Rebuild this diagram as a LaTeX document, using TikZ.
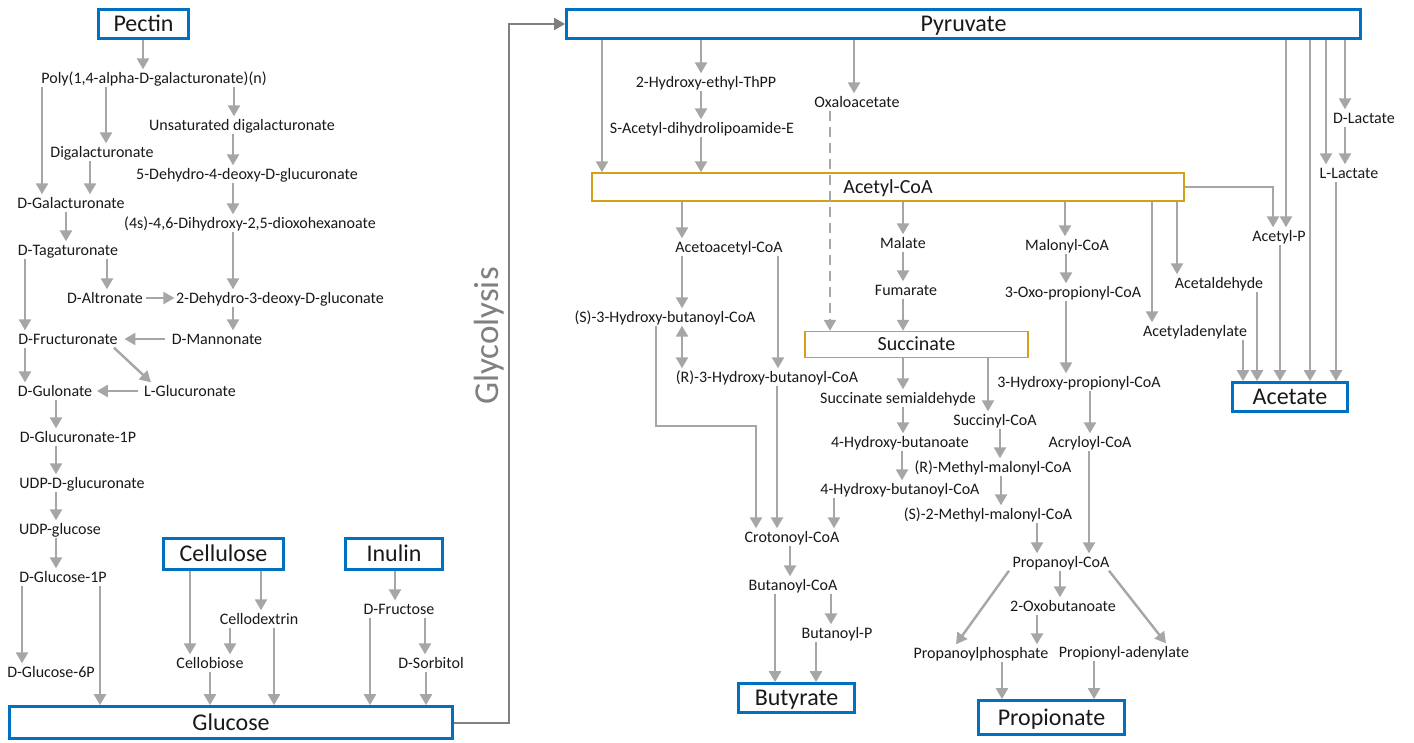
\documentclass[tikz,border=0pt]{standalone}
\usepackage{fontspec}
\setmainfont{Carlito}
\usetikzlibrary{arrows.meta}
\definecolor{boxblue}{RGB}{0,112,192}
\definecolor{boxgold}{RGB}{212,160,23}
\definecolor{arrgrey}{RGB}{166,166,166}
\definecolor{glygrey}{RGB}{128,128,128}
\newcommand\vlink[3]{\draw[arr] (#1.south -| #3,0) -- (#2.north -| #3,0);}
\begin{document}
\begin{tikzpicture}[x=1pt,y=-1pt,
  >={Triangle[width=12pt,length=11pt]},
  lbl/.style={font=\fontsize{16}{18}\selectfont, inner sep=1.5pt, text height=12.5pt, text depth=1.5pt, text=black!90},
  bluebox/.style={draw=boxblue, line width=2.8pt, font=\fontsize{24}{26}\selectfont, inner sep=0pt, text height=18pt, text depth=3pt, text=black!90},
  goldbox/.style={draw=boxgold, line width=1.5pt, font=\fontsize{20}{22}\selectfont, inner sep=0pt, text height=15pt, text depth=2.5pt, text=black!90},
  arr/.style={draw=arrgrey, line width=2.4pt, ->, arrgrey},
  darr/.style={draw=arrgrey, line width=2.4pt, <->, arrgrey},
  glyarr/.style={draw=glygrey, line width=2pt, ->, glygrey}]
\fill[white] (0,0) rectangle (1414,742);
\useasboundingbox (0,0) rectangle (1414,742);

% boxes
\node[bluebox, minimum width=90pt, minimum height=29pt] (pectin) at (143.5,24) {Pectin};
\node[bluebox, minimum width=120pt, minimum height=31pt] (cellulose) at (223.5,554) {Cellulose};
\node[bluebox, minimum width=97pt, minimum height=31pt] (inulin) at (394,554) {Inulin};
\node[bluebox, minimum width=443pt, minimum height=32pt] (glucose) at (231,722.5) {Glucose};
\node[bluebox, minimum width=794pt, minimum height=29pt] (pyr) at (963.5,24) {Pyruvate};
\node[bluebox, minimum width=116pt, minimum height=29pt] (butyrate) at (796.5,698) {Butyrate};
\node[bluebox, minimum width=146pt, minimum height=34pt] (propionate) at (1051.5,717.5) {Propionate};
\node[bluebox, minimum width=115pt, minimum height=29pt] (acetate) at (1290,397) {Acetate};
\node[goldbox, minimum width=592pt, minimum height=28pt] (acoa) at (888,187) {Acetyl-CoA};
\node[goldbox, minimum width=223pt, minimum height=26pt] (succ) at (916.5,344.5) {Succinate};

% glycolysis
\node[rotate=90, font=\fontsize{35}{37}\selectfont, text=glygrey] (gly) at (489,336) {Glycolysis};
\draw[glyarr] (glucose.east) -- (glucose.east -| 509,0) -- (pyr.west -| 509,0) -- (pyr.west);

% left labels
\node[lbl] (poly) at (154,78) {Poly(1,4-alpha-D-galacturonate)(n)};
\node[lbl] (unsat) at (242,125) {Unsaturated digalacturonate};
\node[lbl] (digal) at (102,152) {Digalacturonate};
\node[lbl] (dehyd) at (247,174) {5-Dehydro-4-deoxy-D-glucuronate};
\node[lbl] (dgal) at (71,203) {D-Galacturonate};
\node[lbl] (dihyd) at (250,223) {(4s)-4,6-Dihydroxy-2,5-dioxohexanoate};
\node[lbl] (dtag) at (68,250) {D-Tagaturonate};
\node[lbl] (dalt) at (105,298) {D-Altronate};
\node[lbl] (ddg) at (280,298) {2-Dehydro-3-deoxy-D-gluconate};
\node[lbl] (dman) at (217,339) {D-Mannonate};
\node[lbl] (dfru) at (68,339) {D-Fructuronate};
\node[lbl] (dgul) at (55,391) {D-Gulonate};
\node[lbl] (lglu) at (190,391) {L-Glucuronate};
\node[lbl] (dg1p) at (78,437) {D-Glucuronate-1P};
\node[lbl] (udpgu) at (82,483) {UDP-D-glucuronate};
\node[lbl] (udpg) at (60,529) {UDP-glucose};
\node[lbl] (glc1p) at (63,577) {D-Glucose-1P};
\node[lbl] (glc6p) at (51,672) {D-Glucose-6P};
\node[lbl] (cdex) at (259,619) {Cellodextrin};
\node[lbl] (cbio) at (210,663) {Cellobiose};
\node[lbl] (dfruc) at (399,609) {D-Fructose};
\node[lbl] (dsorb) at (431,663) {D-Sorbitol};

% left arrows
\vlink{pectin}{poly}{143}
\vlink{poly}{dgal}{42}
\vlink{poly}{digal}{106}
\vlink{poly}{unsat}{234}
\vlink{unsat}{dehyd}{233}
\vlink{digal}{dgal}{90}
\vlink{dehyd}{dihyd}{233}
\vlink{dgal}{dtag}{66}
\vlink{dihyd}{ddg}{233}
\vlink{dtag}{dalt}{107}
\vlink{dtag}{dfru}{25}
\draw[arr, shorten <=1pt] (dalt.east) -- (ddg.west);
\vlink{ddg}{dman}{233}
\draw[arr, shorten <=5pt, shorten >=5pt] (dman.west) -- (dfru.east);
\vlink{dfru}{dgul}{25}
\draw[arr] (dfru.south -| 114,0) -- (lglu.north -| 151,0);
\draw[arr, shorten <=4pt, shorten >=3pt] (lglu.west) -- (dgul.east);
\vlink{dgul}{dg1p}{56}
\vlink{dg1p}{udpgu}{56}
\vlink{udpgu}{udpg}{56}
\vlink{udpg}{glc1p}{56}
\vlink{glc1p}{glc6p}{22}
\vlink{glc1p}{glucose}{100}
\vlink{cellulose}{cbio}{190}
\vlink{cellulose}{cdex}{261}
\vlink{cdex}{cbio}{230}
\vlink{cdex}{glucose}{274}
\vlink{cbio}{glucose}{210}
\vlink{inulin}{dfruc}{395}
\vlink{dfruc}{glucose}{370}
\vlink{dfruc}{dsorb}{425}
\vlink{dsorb}{glucose}{426}

% right labels
\node[lbl] (hthpp) at (706,82) {2-Hydroxy-ethyl-ThPP};
\node[lbl] (sacet) at (702,128) {S-Acetyl-dihydrolipoamide-E};
\node[lbl] (oxalo) at (857,102) {Oxaloacetate};
\node[lbl] (dlac) at (1364,118) {D-Lactate};
\node[lbl] (llac) at (1349,173) {L-Lactate};
\node[lbl] (aacoa) at (729,247) {Acetoacetyl-CoA};
\node[lbl] (malate) at (903,243) {Malate};
\node[lbl] (malcoa) at (1067,245) {Malonyl-CoA};
\node[lbl] (acp) at (1279,236) {Acetyl-P};
\node[lbl] (acald) at (1219,283) {Acetaldehyde};
\node[lbl] (fum) at (906,290) {Fumarate};
\node[lbl] (oxoprop) at (1073,292) {3-Oxo-propionyl-CoA};
\node[lbl] (s3h) at (665,317) {(S)-3-Hydroxy-butanoyl-CoA};
\node[lbl] (acad) at (1195,331) {Acetyladenylate};
\node[lbl] (r3h) at (767,377) {(R)-3-Hydroxy-butanoyl-CoA};
\node[lbl] (hprop) at (1079,382) {3-Hydroxy-propionyl-CoA};
\node[lbl] (ssa) at (898,398) {Succinate semialdehyde};
\node[lbl] (succoa) at (995,420) {Succinyl-CoA};
\node[lbl] (hbut) at (900,442) {4-Hydroxy-butanoate};
\node[lbl] (acrcoa) at (1090,442) {Acryloyl-CoA};
\node[lbl] (rmm) at (993,467) {(R)-Methyl-malonyl-CoA};
\node[lbl] (hbcoa) at (900,489) {4-Hydroxy-butanoyl-CoA};
\node[lbl] (smm) at (988,514) {(S)-2-Methyl-malonyl-CoA};
\node[lbl] (croton) at (792,537) {Crotonoyl-CoA};
\node[lbl] (pcoa) at (1061,562) {Propanoyl-CoA};
\node[lbl] (bcoa) at (793,585) {Butanoyl-CoA};
\node[lbl] (oxob) at (1063,606) {2-Oxobutanoate};
\node[lbl] (bp) at (837,633) {Butanoyl-P};
\node[lbl] (pphos) at (981,653) {Propanoylphosphate};
\node[lbl] (padl) at (1124,652) {Propionyl-adenylate};

% right arrows
\vlink{pyr}{acoa}{602}
\vlink{pyr}{hthpp}{701}
\vlink{hthpp}{sacet}{701}
\vlink{sacet}{acoa}{701}
\vlink{pyr}{oxalo}{854}
\draw[arr, dash pattern=on 10pt off 6pt] (oxalo.south -| 830,0) -- (succ.north -| 830,0);
\vlink{acoa}{aacoa}{682}
\vlink{acoa}{malate}{903}
\vlink{acoa}{malcoa}{1065}
\vlink{acoa}{acad}{1152}
\vlink{acoa}{acald}{1177}
\draw[arr] (acoa.east) -- (acoa.east -| 1273,0) -- (acp.north -| 1273,0);
\vlink{pyr}{acp}{1286}
\vlink{pyr}{acetate}{1310}
\vlink{pyr}{llac}{1326}
\vlink{pyr}{dlac}{1345}
\vlink{dlac}{llac}{1345}
\vlink{llac}{acetate}{1336}
\vlink{acp}{acetate}{1280}
\vlink{acald}{acetate}{1257}
\vlink{acad}{acetate}{1243}
\vlink{aacoa}{s3h}{682}
\draw[darr] (s3h.south -| 682,0) -- (r3h.north -| 682,0);
\vlink{aacoa}{r3h}{778}
\vlink{r3h}{croton}{777}
\draw[arr] (s3h.south -| 656,0) -- (656,426) -- (756,426) -- (croton.north -| 756,0);
\vlink{hbcoa}{croton}{834}
\vlink{croton}{bcoa}{790}
\vlink{bcoa}{butyrate}{775}
\vlink{bcoa}{bp}{831}
\vlink{bp}{butyrate}{816}
\vlink{malate}{fum}{903}
\vlink{fum}{succ}{903}
\vlink{succ}{ssa}{903}
\vlink{ssa}{hbut}{903}
\vlink{hbut}{hbcoa}{902}
\vlink{succ}{succoa}{988}
\vlink{succoa}{rmm}{1000}
\vlink{rmm}{smm}{1001}
\vlink{smm}{pcoa}{1037}
\vlink{malcoa}{oxoprop}{1066}
\vlink{oxoprop}{hprop}{1066}
\vlink{hprop}{acrcoa}{1090}
\vlink{acrcoa}{pcoa}{1089}
\draw[arr] (pcoa.south -| 1009,0) -- (pphos.north -| 956,0);
\draw[arr] (pcoa.south -| 1109,0) -- (padl.north -| 1166,0);
\vlink{pcoa}{oxob}{1060}
\vlink{oxob}{pphos}{1037}
\vlink{pphos}{propionate}{1002}
\vlink{padl}{propionate}{1094}
\end{tikzpicture}
\end{document}
